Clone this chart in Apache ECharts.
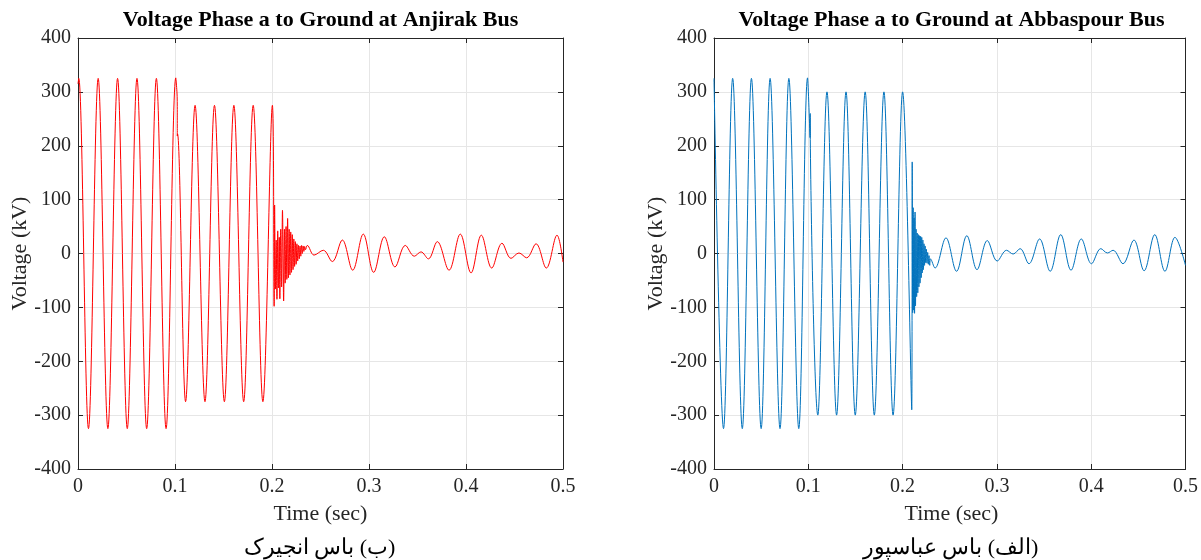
<!DOCTYPE html>
<html>
<head>
<meta charset="utf-8">
<script src="https://cdn.jsdelivr.net/npm/echarts@6/dist/echarts.min.js"></script>
<style>html,body{margin:0;padding:0;background:#fff}#c{width:1201px;height:560px}</style>
</head>
<body>
<div id="c"></div>
<script>
// ---- Data (extrema of the waveforms) ----
// Anjirak bus (left, red)
const anjirakTime = [
  0, 0.0008, 0.0108, 0.0208, 0.0308, 0.0408, 0.0508, 0.0608, 0.0708, 0.0808, 0.0908, 0.1008,
  0.1020, 0.1023, 0.1024, 0.1026,
  0.1109, 0.1207, 0.1309, 0.1407, 0.1509, 0.1607, 0.1708, 0.1806, 0.1906, 0.2004,
  0.2022, 0.2027, 0.2035, 0.2043, 0.2051, 0.2059, 0.2067, 0.2075, 0.2081, 0.2090, 0.2099,
  0.2108, 0.2120, 0.2128, 0.2136, 0.2145, 0.2153, 0.2161, 0.2169, 0.2177, 0.2185, 0.2193,
  0.2201, 0.2209, 0.2217, 0.2225, 0.2233, 0.2241, 0.2249, 0.2257, 0.2265, 0.2273, 0.2281,
  0.2289, 0.2297, 0.2305, 0.2313, 0.2321, 0.2329, 0.2337, 0.2345,
  0.2364, 0.2433, 0.2529, 0.2622, 0.2725, 0.2832, 0.2941, 0.3048, 0.3158, 0.3268, 0.3374,
  0.3467, 0.3536, 0.3612, 0.3704, 0.3825, 0.3941, 0.4052, 0.4158, 0.4265, 0.4371, 0.4464,
  0.4546, 0.4625, 0.4722, 0.4828, 0.4938, 0.5
];
const anjirakVoltage = [
  315, 325, -325, 325, -325, 325, -325, 325, -325, 325, -325, 326,
  300, 282, 218, 222,
  -275, 275, -275, 275, -275, 275, -275, 275, -275, 275,
  -98, 90, -66, 25, -85, 42, -64, 30, -84, 45, -62,
  80, -88, 45, -55, 50, -48, 65, -45, 45, -40, 40,
  -35, 35, -30, 27, -24, 22, -20, 18, -14, 15, -10,
  14, -5, 15, 0, 14, 4, 13, 7,
  15, -3, 6, -15, 25, -31, 36, -35, 31, -25, 15,
  -5, 3, -10, 22, -31, 36, -36, 34, -27, 19, -9,
  1, -8, 18, -27, 34, -16
];
// Abbaspour bus (right, blue)
const abbaspourTime = [
  0, 0.0101, 0.0198, 0.0300, 0.0397, 0.0500, 0.0595, 0.0700, 0.0794, 0.0899, 0.0992,
  0.1019, 0.1020, 0.1021,
  0.1101, 0.1198, 0.1300, 0.1400, 0.1498, 0.1603, 0.1700, 0.1802, 0.1899, 0.2000, 0.2097,
  0.2102, 0.2107, 0.2112, 0.2117, 0.2122, 0.2127, 0.2132, 0.2137, 0.2143, 0.2149, 0.2155,
  0.2161, 0.2167, 0.2173, 0.2179, 0.2185, 0.2191, 0.2197, 0.2203, 0.2209, 0.2215, 0.2221,
  0.2227, 0.2233, 0.2239, 0.2245, 0.2252, 0.2259, 0.2266, 0.2273, 0.2280, 0.2288, 0.2296,
  0.2344, 0.2460, 0.2572, 0.2681, 0.2789, 0.2898, 0.3003, 0.3102, 0.3172, 0.3246, 0.3340,
  0.3453, 0.3565, 0.3677, 0.3786, 0.3895, 0.4003, 0.4102, 0.4172, 0.4232, 0.4337, 0.4453,
  0.4561, 0.4674, 0.4782, 0.4888, 0.5
];
const abbaspourVoltage = [
  325, -325, 325, -325, 325, -325, 325, -325, 325, -325, 326,
  215, 260, 212,
  -300, 300, -300, 300, -300, 300, -300, 300, -300, 300, -290,
  170, -110, 85, -105, 66, -111, 77, -97, 45, -80, 38,
  -73, 35, -62, 33, -55, 32, -45, 30, -36, 25, -30,
  18, -22, 14, -17, 8, -18, 2, -20, -4, -22, -10,
  -27, 29, -33, 33, -30, 24, -14, 6, -1, 9, -19,
  27, -33, 35, -31, 27, -19, 9, 1, 6, -19, 25,
  -32, 35, -33, 30, -22
];
// Axis ticks
const timeTicks = { min: 0, max: 0.5, step: 0.1 };
const voltTicks = { min: -400, max: 400, step: 100 };

const titles = ['Voltage Phase a to Ground at Anjirak Bus', 'Voltage Phase a to Ground at Abbaspour Bus'];
const captions = ['\u202B(ب) باس انجیرک\u202C', '\u202B(الف) باس عباسپور\u202C'];
const xName = 'Time (sec)';
const yName = 'Voltage (kV)';

// ---- Layout / style ----
const grids = [
  { left: 78, top: 38, width: 485, height: 431 },
  { left: 714, top: 38, width: 475, height: 431 }
];
const axisColor = '#262626';
const gridColor = '#e6e6e6';
const serif = '"Liberation Serif","Times New Roman","DejaVu Serif",serif';
const colors = ['#ff0000', '#0072bd'];

const xAxes = [], yAxes = [], series = [], graphics = [];
const pairs = [
  anjirakTime.map((t, i) => [t, anjirakVoltage[i]]),
  abbaspourTime.map((t, i) => [t, abbaspourVoltage[i]])
];

grids.forEach((g, i) => {
  const common = {
    gridIndex: i, type: 'value',
    axisLine: { show: true, onZero: false, lineStyle: { color: axisColor, width: 1 } },
    axisTick: { show: true, inside: true, length: 5, lineStyle: { color: axisColor, width: 1 } }
  };
  xAxes.push(Object.assign({}, common, {
    position: 'bottom', min: timeTicks.min, max: timeTicks.max, interval: timeTicks.step,
    axisLabel: { color: axisColor, fontFamily: serif, fontSize: 20, margin: 8,
      formatter: v => String(Math.round(v * 10) / 10) },
    splitLine: { show: true, lineStyle: { color: gridColor, width: 1 } }
  }));
  xAxes.push(Object.assign({}, common, {
    position: 'top', min: timeTicks.min, max: timeTicks.max, interval: timeTicks.step,
    axisLabel: { show: false }, splitLine: { show: false }
  }));
  yAxes.push(Object.assign({}, common, {
    position: 'left', min: voltTicks.min, max: voltTicks.max, interval: voltTicks.step,
    axisLabel: { color: axisColor, fontFamily: serif, fontSize: 20, margin: 7 },
    splitLine: { show: true, lineStyle: { color: gridColor, width: 1 } }
  }));
  yAxes.push(Object.assign({}, common, {
    position: 'right', min: voltTicks.min, max: voltTicks.max, interval: voltTicks.step,
    axisLabel: { show: false }, splitLine: { show: false }
  }));
  series.push({
    type: 'line', xAxisIndex: i * 2, yAxisIndex: i * 2, data: pairs[i],
    showSymbol: false, symbol: 'none', smooth: 0.36, clip: true,
    lineStyle: { color: colors[i], width: 1 }, z: 3
  });
  const cx = g.left + g.width / 2;
  graphics.push({ type: 'text', x: cx, y: 20, style: { text: titles[i], font: 'bold 22px ' + serif,
    fill: '#000', align: 'center', verticalAlign: 'middle' } });
  graphics.push({ type: 'text', x: cx, y: 514, style: { text: xName, font: '22px ' + serif,
    fill: axisColor, align: 'center', verticalAlign: 'middle' } });
  graphics.push({ type: 'text', x: g.left - 58, y: g.top + g.height / 2, rotation: Math.PI / 2,
    style: { text: yName, font: '22px ' + serif, fill: axisColor, align: 'center', verticalAlign: 'middle' } });
  graphics.push({ type: 'text', x: cx - 1, y: 548, style: { text: captions[i], font: '22px ' + serif,
    fill: '#000', align: 'center', verticalAlign: 'middle' } });
});

const chart = echarts.init(document.getElementById('c'), null, { renderer: 'canvas' });
chart.setOption({
  animation: false,
  backgroundColor: '#fff',
  grid: grids,
  xAxis: xAxes,
  yAxis: yAxes,
  series: series,
  graphic: graphics
});
</script>
</body>
</html>
